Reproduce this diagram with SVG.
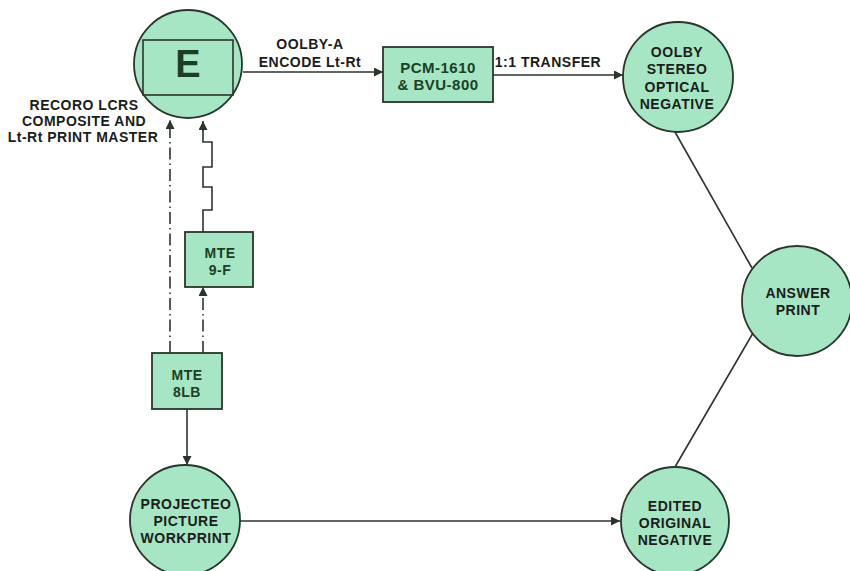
<svg xmlns="http://www.w3.org/2000/svg" width="850" height="571" viewBox="0 0 850 571">
<defs>
<style>
.n{fill:#a6e6c4;stroke:#2a352c;stroke-width:1.8}
.t{font-family:"Liberation Sans",Arial,sans-serif;font-weight:bold;font-size:14px;letter-spacing:0.5px;fill:#1a1d1a;text-anchor:middle}
.g{fill:#1b3f25}
.c{fill:none;stroke:#2a352c;stroke-width:1.6}
.d{stroke-dasharray:12 4 1.5 4}
</style>
<marker id="a" viewBox="0 0 10 10" refX="10" refY="5" markerWidth="10" markerHeight="9" markerUnits="userSpaceOnUse" orient="auto">
<path d="M0,0 L10,5 L0,10 z" fill="#2a352c"/>
</marker>
</defs>
<rect width="850" height="571" fill="#ffffff"/>
<g id="connectors">
<line class="c" x1="243" y1="72" x2="383" y2="72" marker-end="url(#a)"/>
<line class="c" x1="493" y1="75" x2="623" y2="75" marker-end="url(#a)"/>
<line class="c" x1="675" y1="132" x2="752" y2="268"/>
<line class="c" x1="753" y1="333" x2="675" y2="467"/>
<line class="c" x1="240" y1="521" x2="620" y2="521" marker-end="url(#a)"/>
<line class="c" x1="187" y1="409" x2="187" y2="465" marker-end="url(#a)"/>
<line class="c d" x1="170" y1="353" x2="170" y2="120" marker-end="url(#a)"/>
<line class="c d" x1="203" y1="353" x2="203" y2="287" marker-end="url(#a)"/>
<polyline class="c" points="203,232 203,210 212,210 212,187 203,187 203,167 212,167 212,142 203,142 203,130"/>
<line class="c" x1="203" y1="131" x2="203" y2="121" marker-end="url(#a)"/>
<text class="t" x="310" y="49">OOLBY-A</text>
<text class="t" x="310" y="67">ENCODE Lt-Rt</text>
<text class="t" x="548" y="67">1:1 TRANSFER</text>
<text class="t" x="84" y="110">RECORO LCRS</text>
<text class="t" x="84" y="126">COMPOSITE AND</text>
<text class="t" x="83" y="142">Lt-Rt PRINT MASTER</text>
</g>
<g id="node-e">
<circle class="n" cx="188" cy="64" r="54"/>
<rect x="143" y="40" width="90" height="55" fill="none" stroke="#2a352c" stroke-width="1.6"/>
<text class="t g" x="188" y="77" style="font-size:38px;letter-spacing:0">E</text>
</g>
<g id="node-pcm">
<rect class="n" x="383" y="47" width="110" height="55"/>
<text class="t g" x="438" y="73" style="font-size:15px">PCM-1610</text>
<text class="t g" x="438" y="90" style="font-size:15px">&amp; BVU-800</text>
</g>
<g id="node-optical">
<circle class="n" cx="678" cy="77" r="55"/>
<text class="t" x="677" y="57">OOLBY</text>
<text class="t" x="677" y="74">STEREO</text>
<text class="t" x="677" y="92">OPTICAL</text>
<text class="t" x="677" y="109">NEGATIVE</text>
</g>
<g id="node-answer">
<circle class="n" cx="797" cy="301" r="55"/>
<text class="t" x="798" y="298">ANSWER</text>
<text class="t" x="798" y="315">PRINT</text>
</g>
<g id="node-edited">
<circle class="n" cx="675" cy="521" r="54"/>
<text class="t" x="675" y="511">EDITED</text>
<text class="t" x="675" y="528">ORIGINAL</text>
<text class="t" x="675" y="545">NEGATIVE</text>
</g>
<g id="node-projected">
<circle class="n" cx="185" cy="520" r="55"/>
<text class="t" x="186" y="509">PROJECTEO</text>
<text class="t" x="186" y="526">PICTURE</text>
<text class="t" x="186" y="543">WORKPRINT</text>
</g>
<g id="node-mte8lb">
<rect class="n" x="152" y="353" width="70" height="56"/>
<text class="t g" x="187" y="380">MTE</text>
<text class="t g" x="187" y="397">8LB</text>
</g>
<g id="node-mte9f">
<rect class="n" x="185" y="232" width="68" height="55"/>
<text class="t g" x="220" y="258">MTE</text>
<text class="t g" x="220" y="275">9-F</text>
</g>
</svg>
